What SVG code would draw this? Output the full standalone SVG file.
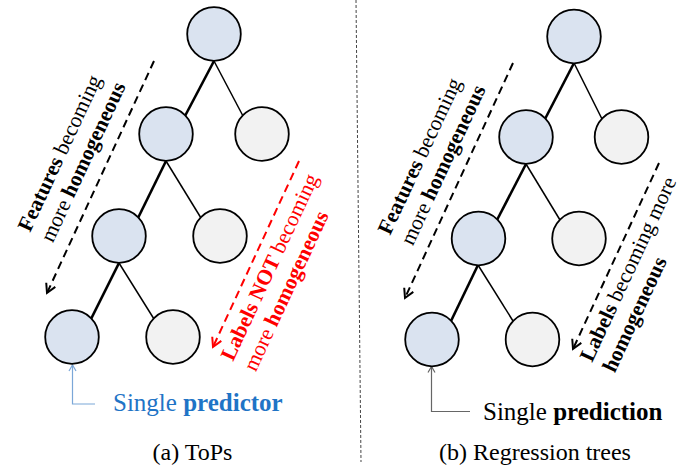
<svg xmlns="http://www.w3.org/2000/svg" width="700" height="472" viewBox="0 0 700 472">
<defs>
<style>
.blue{fill:#dae3f0;stroke:#000;stroke-width:1.8}
.gray{fill:#f2f2f2;stroke:#000;stroke-width:1.8}
.thick{stroke:#000;stroke-width:2.6;fill:none}
.thin{stroke:#000;stroke-width:1.5;fill:none}
.dash{stroke:#000;stroke-width:2;stroke-dasharray:8 5;fill:none}
.dashr{stroke:#ff0000;stroke-width:2;stroke-dasharray:8 5;fill:none}
text{font-family:"Liberation Serif","Times New Roman",serif}
.rot{font-size:21.5px}
.cap{font-size:24px;fill:#000}
.call{font-size:25px}
</style>
<marker id="hk" markerUnits="userSpaceOnUse" viewBox="-12 -7 14 14" markerWidth="14" markerHeight="14" refX="0" refY="0" orient="auto">
<path d="M-9,-5 L0,0 L-9,5" fill="none" stroke="#000" stroke-width="2"/>
</marker>
<marker id="hr" markerUnits="userSpaceOnUse" viewBox="-12 -7 14 14" markerWidth="14" markerHeight="14" refX="0" refY="0" orient="auto">
<path d="M-9,-5 L0,0 L-9,5" fill="none" stroke="#ff0000" stroke-width="2"/>
</marker>
<marker id="hb" markerUnits="userSpaceOnUse" viewBox="-8 -5 10 10" markerWidth="10" markerHeight="10" refX="0" refY="0" orient="auto">
<path d="M-6,-3.5 L0,0 L-6,3.5" fill="none" stroke="#7ba7d8" stroke-width="1.2"/>
</marker>
<marker id="hg" markerUnits="userSpaceOnUse" viewBox="-8 -5 10 10" markerWidth="10" markerHeight="10" refX="0" refY="0" orient="auto">
<path d="M-6,-3.5 L0,0 L-6,3.5" fill="none" stroke="#666" stroke-width="1.2"/>
</marker>
</defs>
<rect width="700" height="472" fill="#fff"/>

<g id="connectors">
<line class="thick" x1="214" y1="61" x2="185" y2="116"/>
<line class="thin" x1="214" y1="61" x2="243" y2="116"/>
<line class="thick" x1="166" y1="161" x2="138" y2="218"/>
<line class="thin" x1="166" y1="161" x2="201" y2="218"/>
<line class="thick" x1="119" y1="263" x2="91" y2="319"/>
<line class="thin" x1="119" y1="263" x2="154" y2="319"/>
<line class="thick" x1="574" y1="63" x2="545" y2="119"/>
<line class="thin" x1="574" y1="63" x2="602" y2="119"/>
<line class="thick" x1="526" y1="164" x2="497" y2="220"/>
<line class="thin" x1="526" y1="164" x2="560" y2="220"/>
<line class="thick" x1="478" y1="265" x2="451" y2="321"/>
<line class="thin" x1="478" y1="265" x2="513" y2="321"/>
<line class="dash" x1="154" y1="61" x2="47" y2="293" marker-end="url(#hk)"/>
<line class="dashr" x1="299" y1="161" x2="213" y2="347" marker-end="url(#hr)"/>
<line class="dash" x1="513" y1="63" x2="405" y2="298" marker-end="url(#hk)"/>
<line class="dash" x1="659" y1="163" x2="573" y2="349" marker-end="url(#hk)"/>
<polyline points="95,404 72.5,404 72.5,365" fill="none" stroke="#7ba7d8" stroke-width="1.2" marker-end="url(#hb)"/>
<polyline points="470,411.5 431.5,411.5 431.5,366.5" fill="none" stroke="#666" stroke-width="1.2" marker-end="url(#hg)"/>
<line x1="356" y1="0" x2="361" y2="462" stroke="#444" stroke-width="1" stroke-dasharray="3 2"/>
</g>

<g id="a-root"><circle class="blue" cx="214" cy="34" r="26.8"/></g>
<g id="a-l2l"><circle class="blue" cx="166" cy="134" r="26.8"/></g>
<g id="a-l2r"><circle class="gray" cx="262" cy="134" r="26.8"/></g>
<g id="a-l3l"><circle class="blue" cx="119" cy="236" r="26.8"/></g>
<g id="a-l3r"><circle class="gray" cx="220" cy="236" r="26.8"/></g>
<g id="a-l4l"><circle class="blue" cx="72" cy="337" r="26.8"/></g>
<g id="a-l4r"><circle class="gray" cx="173" cy="337" r="26.8"/></g>

<g id="b-root"><circle class="blue" cx="574" cy="36.5" r="26.8"/></g>
<g id="b-l2l"><circle class="blue" cx="526" cy="137" r="26.8"/></g>
<g id="b-l2r"><circle class="gray" cx="621.5" cy="137" r="26.8"/></g>
<g id="b-l3l"><circle class="blue" cx="478.5" cy="238.5" r="26.8"/></g>
<g id="b-l3r"><circle class="gray" cx="579" cy="238.5" r="26.8"/></g>
<g id="b-l4l"><circle class="blue" cx="432" cy="339.5" r="26.8"/></g>
<g id="b-l4r"><circle class="gray" cx="532.5" cy="339.5" r="26.8"/></g>

<g id="a-features" transform="translate(30,233) rotate(-65)">
<text class="rot" x="0" y="0"><tspan font-weight="bold">Features</tspan> becoming</text>
<text class="rot" x="0" y="25">more <tspan font-weight="bold">homogeneous</tspan></text>
</g>
<g id="a-labels" transform="translate(233,362) rotate(-65)">
<text class="rot" x="0" y="0" fill="#ff0000"><tspan font-weight="bold">Labels NOT</tspan> becoming</text>
<text class="rot" x="0" y="25" fill="#ff0000">more <tspan font-weight="bold">homogeneous</tspan></text>
</g>
<g id="b-features" transform="translate(390,236) rotate(-65)">
<text class="rot" x="0" y="0"><tspan font-weight="bold">Features</tspan> becoming</text>
<text class="rot" x="0" y="25">more <tspan font-weight="bold">homogeneous</tspan></text>
</g>
<g id="b-labels" transform="translate(592,363) rotate(-65)">
<text class="rot" x="0" y="0"><tspan font-weight="bold">Labels</tspan> becoming more</text>
<text class="rot" x="0" y="25" font-weight="bold">homogeneous</text>
</g>

<g id="a-callout"><text class="call" x="113" y="411" fill="#1f74c6">Single <tspan font-weight="bold">predictor</tspan></text></g>
<g id="b-callout"><text class="call" x="483" y="420" fill="#000">Single <tspan font-weight="bold">prediction</tspan></text></g>
<g id="a-caption"><text class="cap" x="192.5" y="460" text-anchor="middle">(a) ToPs</text></g>
<g id="b-caption"><text class="cap" x="535" y="460" text-anchor="middle">(b) Regression trees</text></g>
</svg>
